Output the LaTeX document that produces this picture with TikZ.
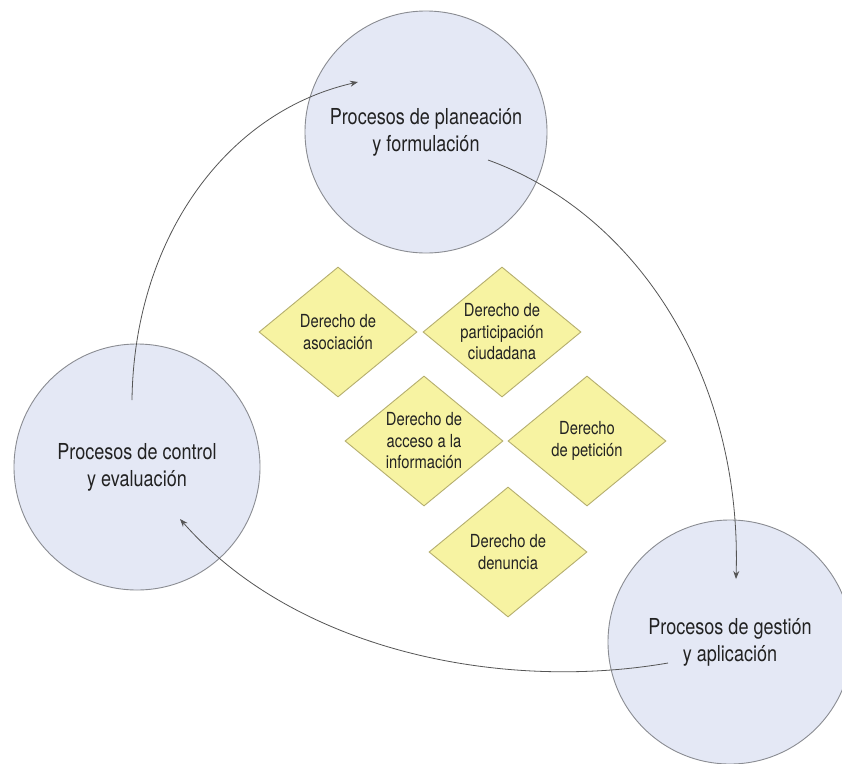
\documentclass[tikz,border=0pt]{standalone}
\usepackage{fontspec}
\setmainfont{TeX Gyre Heros}[FakeStretch=0.82]
\usetikzlibrary{shapes.geometric,arrows.meta}
\definecolor{circfill}{HTML}{E4E8F5}
\definecolor{circline}{HTML}{8A8C92}
\definecolor{diafill}{HTML}{F7F3A2}
\definecolor{dialine}{HTML}{B5AE6E}
\definecolor{txt}{HTML}{222222}
\definecolor{arr}{HTML}{555555}
\tikzset{
  proc/.style={circle, draw=circline, line width=0.9pt, fill=circfill, minimum size=242pt, inner sep=0pt,
    font=\fontsize{22}{27}\selectfont, text=txt, align=center},
  right/.style={diamond, draw=dialine, line width=0.9pt, fill=diafill, minimum width=158pt, minimum height=130pt,
    aspect=1.215, inner sep=0pt, font=\fontsize{18}{21.5}\selectfont, text=txt, align=center},
  flow/.style={draw=arr, line width=0.8pt, -{Stealth[length=8pt,width=6pt]}}
}
\begin{document}
\begin{tikzpicture}[x=1pt,y=-1pt]
\useasboundingbox (0,0) rectangle (842,763);
\clip (0,0) rectangle (842,763);
\fill[white] (0,0) rectangle (842,763);
% circles
\node[proc] (plan) at (426,132) {Procesos de planeación\\y formulación};
\node[proc, minimum size=246pt] (ctrl) at (137,467) {Procesos de control\\y evaluación};
\node[proc, minimum size=244pt] (gest) at (730,642) {Procesos de gestión\\y aplicación};
% arrow end points
\coordinate (a1s) at (132,400);
\coordinate (a1e) at (358,82);
\coordinate (a2s) at (488,160);
\coordinate (a2e) at (736,579);
\coordinate (a3s) at (668,663);
\coordinate (a3e) at (180,519);
\draw[flow] (a1s) .. controls (134,240) and (225,112) .. (a1e);
\draw[flow] (a2s) .. controls (640,215) and (742,380) .. (a2e);
\draw[flow] (a3s) .. controls (500,692) and (295,650) .. (a3e);
% diamonds
\node[right] (aso) at (338,332) {Derecho de\\asociación};
\node[right] (par) at (502,332) {Derecho de\\participación\\ciudadana};
\node[right] (acc) at (424,441) {Derecho de\\acceso a la\\información};
\node[right] (pet) at (587,441) {Derecho\\de petición};
\node[right] (den) at (508,552) {Derecho de\\denuncia};
\end{tikzpicture}
\end{document}
